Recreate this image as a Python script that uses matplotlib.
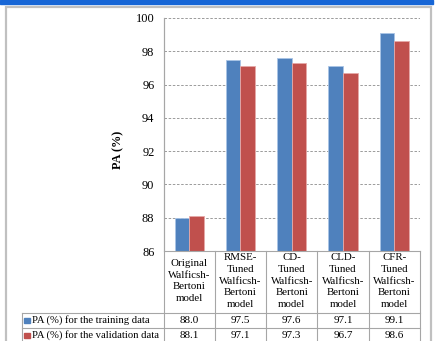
import matplotlib
matplotlib.use("Agg")
import matplotlib.pyplot as plt
from matplotlib.lines import Line2D
from matplotlib.patches import Rectangle

categories = [
    "Original\nWalficsh-\nBertoni\nmodel",
    "RMSE-\nTuned\nWalficsh-\nBertoni\nmodel",
    "CD-\nTuned\nWalficsh-\nBertoni\nmodel",
    "CLD-\nTuned\nWalficsh-\nBertoni\nmodel",
    "CFR-\nTuned\nWalficsh-\nBertoni\nmodel",
]
training = [88.0, 97.5, 97.6, 97.1, 99.1]
validation = [88.1, 97.1, 97.3, 96.7, 98.6]
series_names = ["PA (%) for the training data", "PA (%) for the validation data"]
y_ticks = [86, 88, 90, 92, 94, 96, 98, 100]
y_label = "PA (%)"

W, H = 448, 341
FONT = "Liberation Serif"
plt.rcParams["font.family"] = [FONT, "DejaVu Serif"]
BLUE = "#4F81BD"
RED = "#C0504D"
GRID = "#8C8C8C"
LINE = "#A6A6A6"

fig = plt.figure(figsize=(W / 100, H / 100), dpi=100)

def fx(x):
    return x / W

def fy(y):
    return 1 - y / H

# top blue strip and outer frame
fig.patches.append(Rectangle((0, fy(4)), fx(433), 4 / H, transform=fig.transFigure,
                             color="#1766D6", zorder=0))
fig.patches.append(Rectangle((fx(6), fy(350)), fx(431) - fx(6), fy(7) - fy(350),
                             transform=fig.transFigure, fill=False,
                             edgecolor="#C0C0C0", lw=1.6, zorder=0))

ax_l, ax_r, ax_t, ax_b = 163.5, 420, 18, 251
ax = fig.add_axes([fx(ax_l), fy(ax_b), fx(ax_r) - fx(ax_l), fy(ax_t) - fy(ax_b)])
n = len(categories)
xs = list(range(n))
bw = 0.285
ax.bar([x - bw / 2 for x in xs], [v - 86 for v in training], bottom=86, width=bw,
       color=BLUE, edgecolor="#A9C4E6", lw=0.6, zorder=3)
ax.bar([x + bw / 2 for x in xs], [v - 86 for v in validation], bottom=86, width=bw,
       color=RED, edgecolor="#E6A9A8", lw=0.6, zorder=3)
ax.set_xlim(-0.5, n - 0.5)
ax.set_ylim(86, 100)
ax.set_yticks(y_ticks)
ax.set_yticklabels([str(t) for t in y_ticks], fontsize=8.9)
ax.tick_params(axis="y", length=0, pad=6.5)
ax.set_xticks([])
ax.yaxis.grid(True, linestyle=(0, (3, 2)), color=GRID, lw=0.6, zorder=0)
for s in ["top", "right", "bottom"]:
    ax.spines[s].set_visible(False)
ax.spines["left"].set_color(LINE)
ax.spines["left"].set_linewidth(0.8)

fig.text(fx(118), fy(150), y_label, rotation=90, ha="center", va="center",
         fontsize=8.8, fontweight="bold")

# table
def hline(x0, x1, y):
    fig.lines.append(Line2D([fx(x0), fx(x1)], [fy(y), fy(y)], transform=fig.transFigure,
                            color=LINE, lw=0.8))

def vline(x, y0, y1):
    fig.lines.append(Line2D([fx(x), fx(x)], [fy(y0), fy(y1)], transform=fig.transFigure,
                            color=LINE, lw=0.8))

col_w = (ax_r - ax_l) / n
row_top, row1, row2, row_end = 251, 312.5, 328, 346
hline(ax_l, ax_r, row_top)
hline(22, ax_r, row1)
hline(22, ax_r, row2)
vline(22, row1, row_end)
for i in range(n + 1):
    vline(ax_l + i * col_w, row_top if i > 0 else 18, row_end)

for i, c in enumerate(categories):
    cx = ax_l + (i + 0.5) * col_w
    fig.text(fx(cx), fy(281), c, ha="center", va="center", fontsize=7.8,
             linespacing=1.4)
    fig.text(fx(cx), fy(320.3), f"{training[i]:.1f}", ha="center", va="center", fontsize=8.0)
    fig.text(fx(cx), fy(335.5), f"{validation[i]:.1f}", ha="center", va="center", fontsize=8.0)

for yc, col, name in [(320.3, BLUE, series_names[0]), (335.5, RED, series_names[1])]:
    fig.patches.append(Rectangle((fx(24), fy(yc + 2.8)), 5.5 / W, 5.5 / H,
                                 transform=fig.transFigure, color=col))
    fig.text(fx(31.5), fy(yc), name, ha="left", va="center", fontsize=7.7)

fig.savefig("out.png", dpi=100)
